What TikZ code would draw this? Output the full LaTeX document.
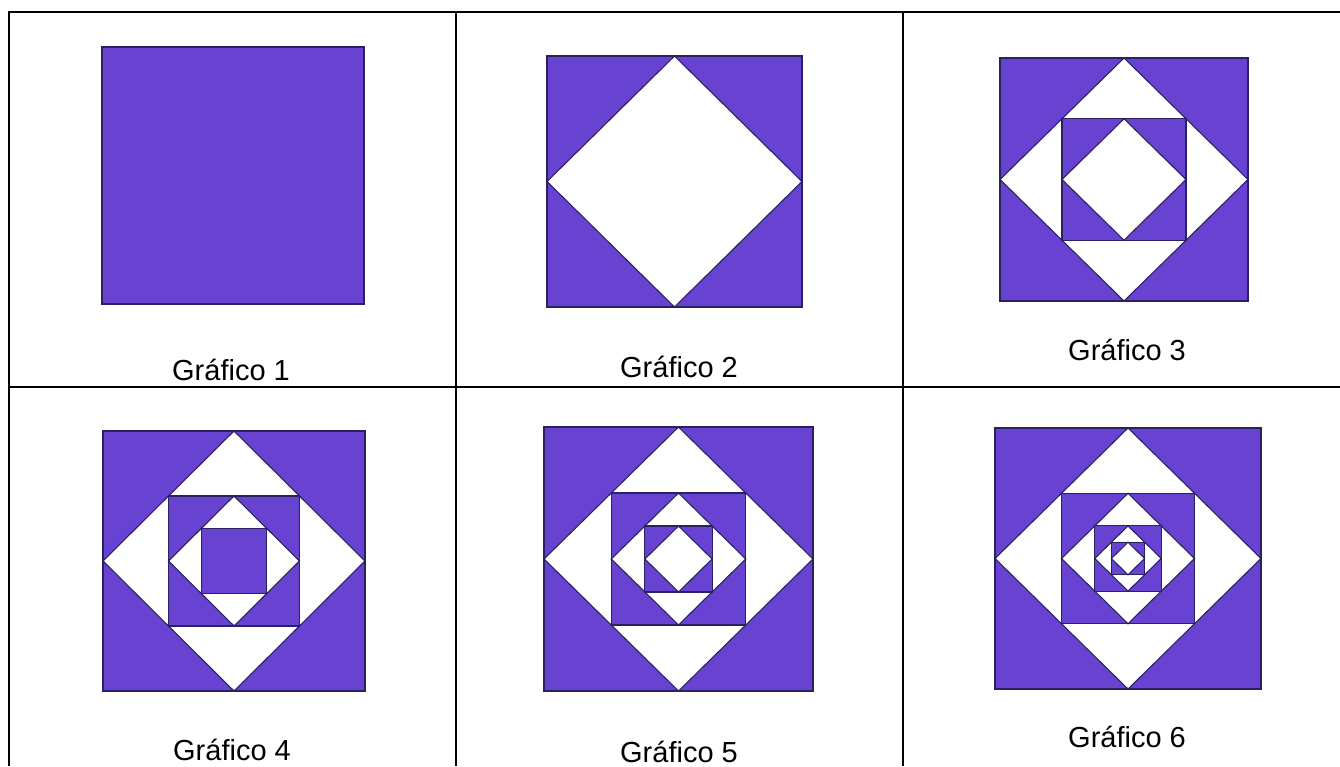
\documentclass[tikz,border=0pt]{standalone}
\usepackage{fontspec}
\setmainfont{Liberation Sans}
\definecolor{violeta}{HTML}{6843D2}
\definecolor{borde}{HTML}{2A2160}
\tikzset{
  sq/.style={fill=violeta, draw=borde, line width=1.1pt, line join=miter},
  dm/.style={fill=white, draw=borde, line width=1.1pt, line join=miter},
  tabla/.style={line width=2pt, draw=black},
  rotulo/.style={anchor=base, inner sep=0pt, font=\fontsize{29}{34}\selectfont}
}
% #1 cx, #2 cy, #3 half-width, #4 half-height, #5 number of elements
\newcommand\motivo[5]{%
  \begin{scope}[shift={(#1,#2)}]
  \foreach \i in {1,...,#5}{%
    \pgfmathtruncatemacro\kk{floor((\i-1)/2)}%
    \pgfmathsetmacro\ha{#3/(2^\kk)}%
    \pgfmathsetmacro\hb{#4/(2^\kk)}%
    \pgfmathtruncatemacro\paridad{mod(\i,2)}%
    \ifnum\paridad=1
      \filldraw[sq] (-\ha,-\hb) rectangle (\ha,\hb);
    \else
      \filldraw[dm] (0,-\hb) -- (\ha,0) -- (0,\hb) -- (-\ha,0) -- cycle;
    \fi
  }
  \end{scope}}
\begin{document}
\begin{tikzpicture}[x=1pt,y=-1pt]
\useasboundingbox (0,0) rectangle (1340,766);
% table
\draw[tabla] (8,12) -- (1340,12);
\draw[tabla] (8,387) -- (1340,387);
\draw[tabla] (9,11) -- (9,766);
\draw[tabla] (455.5,11) -- (455.5,766);
\draw[tabla] (902.5,11) -- (902.5,766);
% figures
\motivo{233}{175.5}{131}{128.5}{1}
\motivo{674.5}{181.5}{127.5}{125.5}{2}
\motivo{1124}{179.5}{124}{121.5}{4}
\motivo{234}{561}{131}{130}{5}
\motivo{678.5}{559}{134.5}{132}{6}
\motivo{1128}{558.5}{133}{130.5}{8}
% labels
\node[rotulo] (g1) at (231,380) {Gráfico 1};
\node[rotulo] (g2) at (679,377) {Gráfico 2};
\node[rotulo] (g3) at (1127,360) {Gráfico 3};
\node[rotulo] (g4) at (232,760) {Gráfico 4};
\node[rotulo] (g5) at (679,762) {Gráfico 5};
\node[rotulo] (g6) at (1127,747) {Gráfico 6};
\end{tikzpicture}
\end{document}
